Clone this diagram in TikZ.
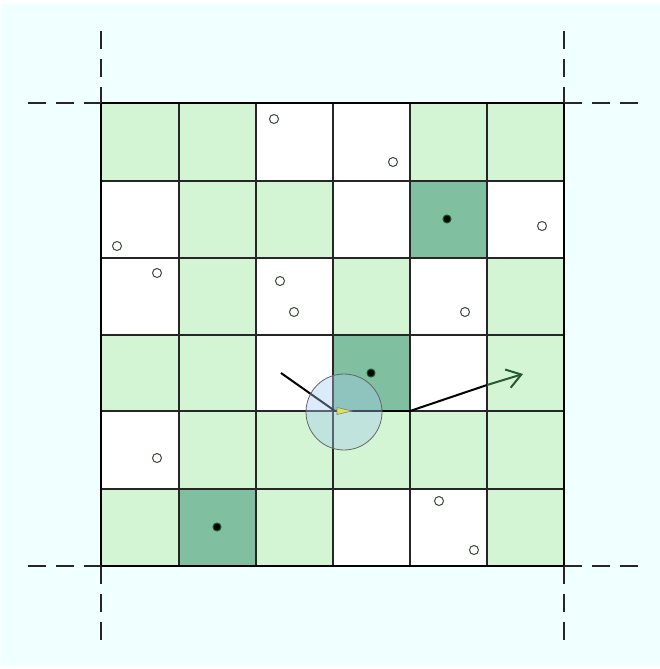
\documentclass[tikz,border=0pt]{standalone}
\usetikzlibrary{arrows.meta}
\definecolor{bgcyan}{RGB}{240,255,255}
\definecolor{lightg}{RGB}{211,245,211}
\definecolor{darkg}{RGB}{128,192,160}
\definecolor{dotg}{RGB}{20,90,30}
\definecolor{ringc}{RGB}{60,70,60}
\definecolor{arrg}{RGB}{40,90,50}
\definecolor{circfill}{RGB}{165,200,240}
\tikzset{
  cell/g/.style={fill=lightg},
  cell/w/.style={fill=white},
  cell/d/.style={fill=darkg},
  cellborder/.style={draw=black!85, line width=1.3pt},
  guide/.style={draw=black!85, line width=1.3pt, dash pattern=on 18pt off 10pt},
  hollow/.style={circle, draw=ringc, fill=white, line width=1pt, minimum size=9pt, inner sep=0pt},
  solid dot/.style={circle, draw=dotg, fill=black, line width=1pt, minimum size=8pt, inner sep=0pt},
  heading/.style={line width=2pt, black},
}
\begin{document}
\begin{tikzpicture}[x=1pt, y=-1pt]
\useasboundingbox (0,0) rectangle (660,669);
\fill[white] (0,0) rectangle (660,669);
\fill[bgcyan] (1,4) rectangle (660,666);
% cells
\foreach \rowlist [count=\r from 0] in {{g,g,w,w,g,g},{w,g,g,w,d,w},{w,g,w,g,w,g},{g,g,w,d,w,g},{w,g,g,g,g,g},{g,d,g,w,w,g}}{
  \foreach \c [count=\k from 0] in \rowlist {
    \pgfmathsetmacro\xa{{101,179,256,333,410,487,564}[\k]}
    \pgfmathsetmacro\xb{{101,179,256,333,410,487,564}[\k+1]}
    \pgfmathsetmacro\ya{{103,181,258,335,411,489,566}[\r]}
    \pgfmathsetmacro\yb{{103,181,258,335,411,489,566}[\r+1]}
    \path[cell/\c, cellborder] (\xa,\ya) rectangle (\xb,\yb);
  }
}
\draw[black, line width=2pt] (101,103) rectangle (564,566);
% guide lines
\coordinate (tl) at (101,103); \coordinate (tr) at (564,103);
\coordinate (bl) at (101,566); \coordinate (br) at (564,566);
\draw[guide] (28,103) -- (tl);
\draw[guide] (101,31) -- (tl);
\draw[guide] (br) -- (638,566);
\draw[guide] (br) -- (564,640);
\draw[guide] (tr) -- (638,103);
\draw[guide] (564,31) -- (tr);
\draw[guide] (28,566) -- (bl);
\draw[guide] (bl) -- (101,640);
% hollow points
\foreach \p/\q [count=\i] in {274/119,393/162,117/246,542/226,157/273,280/281,294/312,465/312,157/458,439/501,474/550}
  \node[hollow] (h\i) at (\p,\q) {};
% filled points
\node[solid dot] (f1) at (447,219) {};
\node[solid dot] (f2) at (371,373) {};
\node[solid dot] (f3) at (217,527) {};
% agent lines
\coordinate (agent) at (335,411);
\coordinate (lstart) at (281,373);
\coordinate (rstart) at (410,411);
\coordinate (rmid) at (487,385);
\coordinate (rtip) at (523,374);
\draw[black, line width=2.2pt] (333,411) -- (410,411);
\draw[heading] (lstart) -- (agent);
\draw[heading] (rstart) -- (rmid);
\draw[arrg, line width=2pt, -{Straight Barb[length=14pt, width=19pt, line width=2pt]}] (rmid) -- (rtip);
% yellow marker
\filldraw[fill=yellow, draw=black!70!yellow, line width=0.6pt] (337,407.5) -- (352,411) -- (337,414.5) -- cycle;
% sensing circle
\node[circle, minimum size=76pt, inner sep=0pt, draw=black!60, line width=0.8pt, fill=circfill, fill opacity=0.38] (sense) at (344,412) {};
\end{tikzpicture}
\end{document}
